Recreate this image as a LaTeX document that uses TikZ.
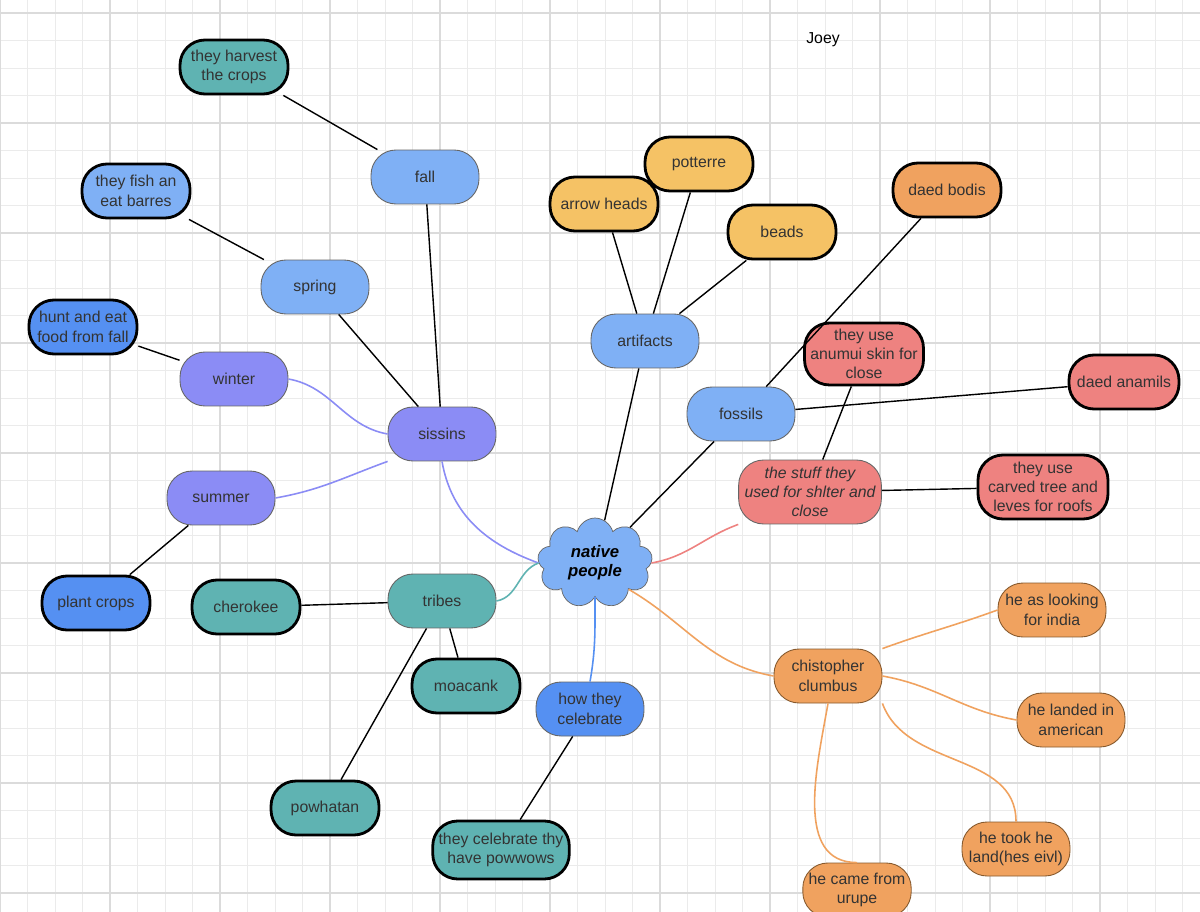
\documentclass[tikz,border=0pt]{standalone}
\usepackage{fontspec}
\setmainfont{Liberation Sans}
\usetikzlibrary{shapes.symbols}
\definecolor{cteal}{HTML}{5FB3B2}
\definecolor{clb}{HTML}{7FB0F5}
\definecolor{cdb}{HTML}{5590F2}
\definecolor{cpu}{HTML}{8B8CF5}
\definecolor{cye}{HTML}{F5C265}
\definecolor{cor}{HTML}{F0A25F}
\definecolor{cre}{HTML}{EE8280}
\definecolor{ctx}{HTML}{333333}
\begin{document}
\begin{tikzpicture}[x=0.02cm,y=-0.02cm,
 bx/.style={rounded corners=0.5cm,minimum width=2.16cm,minimum height=1.08cm,align=center,font=\fontsize{9}{11}\selectfont,text=ctx,draw=black!60,line width=0.5pt},
 bd/.style={bx,draw=black,line width=1.6pt},
 ln/.style={line width=0.8pt}]
\fill[white] (0,0) rectangle (1200,912);
\useasboundingbox (0,0) rectangle (1200,912);
\foreach \i in {0,...,44} \draw[black!8,line width=0.4pt] (\i*27.5,0) -- (\i*27.5,912);
\foreach \i in {0,...,34} \draw[black!8,line width=0.4pt] (0,13+\i*27.5) -- (1200,13+\i*27.5);
\foreach \i in {0,...,11} \draw[black!14,line width=0.6pt] (\i*110,0) -- (\i*110,912);
\foreach \i in {0,...,8} \draw[black!14,line width=0.6pt] (0,13+\i*110) -- (1200,13+\i*110);
\node[font=\fontsize{9}{11}\selectfont] (joey) at (823,40) {Joey};
% nodes
\node[bd,fill=cteal] (harv) at (234,67) {they harvest\\the crops};
\node[bx,fill=clb] (fall) at (425,177) {fall};
\node[bd,fill=clb] (fish) at (136,191) {they fish an\\eat barres};
\node[bx,fill=clb] (spring) at (315,287) {spring};
\node[bd,fill=cdb] (hunt) at (83,327) {hunt and eat\\food from fall};
\node[bx,fill=cpu] (winter) at (234,379) {winter};
\node[bx,fill=cpu] (sis) at (442,434) {sissins};
\node[bx,fill=cpu] (summer) at (221,498) {summer};
\node[bd,fill=cdb] (plant) at (96,603) {plant crops};
\node[bd,fill=cteal] (cher) at (246,607) {cherokee};
\node[bx,fill=cteal] (tribes) at (442,601) {tribes};
\node[bd,fill=cteal] (moa) at (466,686) {moacank};
\node[bd,fill=cteal] (pow) at (325,808) {powhatan};
\node[bx,fill=cdb] (how) at (590,709) {how they\\celebrate};
\node[bd,fill=cteal,minimum width=2.24cm,minimum height=1.16cm] (thy) at (501,850) {they celebrate thy\\have powwows};
\node[cloud,cloud puffs=9,aspect=1.3,draw=black!60,fill=clb,minimum width=2.3cm,minimum height=1.8cm,inner sep=0pt,font=\fontsize{9.5}{11}\selectfont\bfseries\itshape,align=center] (nat) at (595,563) {native\\people};
\node[bx,fill=clb] (art) at (645,341) {artifacts};
\node[bd,fill=cye] (arrow) at (604,204) {arrow heads};
\node[bd,fill=cye] (pot) at (699,164) {potterre};
\node[bd,fill=cye] (beads) at (782,232) {beads};
\node[bd,fill=cor] (bodis) at (947,190) {daed bodis};
\node[bx,fill=clb] (foss) at (741,414) {fossils};
\node[bd,fill=cre,minimum width=2.36cm,minimum height=1.16cm] (anum) at (864,354) {they use\\anumui skin for\\close};
\node[bd,fill=cre,minimum width=2.2cm] (anam) at (1124,382) {daed anamils};
\node[bx,fill=cre,minimum width=2.6cm,minimum height=1.28cm,font=\fontsize{9}{11}\selectfont\itshape] (stuff) at (810,492) {the stuff they\\used for shlter and\\close};
\node[bd,fill=cre,minimum width=2.6cm,minimum height=1.28cm] (carv) at (1043,487) {they use\\carved tree and\\leves for roofs};
\node[bx,fill=cor,draw=brown!70!black] (chis) at (828,676) {chistopher\\clumbus};
\node[bx,fill=cor,draw=brown!70!black] (look) at (1052,610) {he as looking\\for india};
\node[bx,fill=cor,draw=brown!70!black] (land) at (1071,720) {he landed in\\american};
\node[bx,fill=cor,draw=brown!70!black] (took) at (1016,849) {he took he\\land(hes eivl)};
\node[bx,fill=cor,draw=brown!70!black] (came) at (857,890) {he came from\\urupe};
% edges
\begin{scope}[on background layer/.style={}]
\end{scope}
\draw[ln] (harv) -- (fall);
\draw[ln] (fall) -- (sis);
\draw[ln] (fish) -- (spring);
\draw[ln] (spring) -- (sis);
\draw[ln] (hunt) -- (winter);
\draw[ln] (summer) -- (plant);
\draw[ln] (cher) -- (tribes);
\draw[ln] (tribes) -- (moa);
\draw[ln] (tribes) -- (pow);
\draw[ln] (how) -- (thy);
\draw[ln] (art) -- (nat);
\draw[ln] (arrow) -- (art);
\draw[ln] (pot) -- (art);
\draw[ln] (beads) -- (art);
\draw[ln] (bodis) -- (foss);
\draw[ln] (foss) -- (nat);
\draw[ln] (foss) -- (anam);
\draw[ln] (anum) -- (stuff);
\draw[ln] (stuff) -- (carv);
\draw[cpu,line width=0.9pt] (winter.east) to[out=-10,in=170] (sis.west);
\draw[cpu,line width=0.9pt] (summer.east) to[out=10,in=200] (sis.south west);
\draw[cpu,line width=0.9pt] (sis.south) to[out=-80,in=160] (nat.west);
\draw[cteal,line width=0.9pt] (tribes.east) to[out=10,in=200] (nat.west);
\draw[cdb,line width=0.9pt] (nat.south) to[out=-90,in=80] (how.north);
\draw[cre,line width=0.9pt] (nat.east) to[out=10,in=200] (stuff.south west);
\draw[cor,line width=0.9pt] (nat.south east) to[out=-30,in=170] (chis.west);
\draw[cor,line width=0.9pt] (chis.north east) to[out=20,in=200] (look.west);
\draw[cor,line width=0.9pt] (chis.east) to[out=-10,in=170] (land.west);
\draw[cor,line width=0.9pt] (chis.south east) to[out=-70,in=90] (took.north);
\draw[cor,line width=0.9pt] (chis.south) to[out=-100,in=180] (came.north);
% redraw nodes on top
\foreach \n in {harv,fall,fish,spring,hunt,winter,sis,summer,plant,cher,tribes,moa,pow,how,thy,nat,art,arrow,pot,beads,bodis,foss,anum,anam,stuff,carv,chis,look,land,took,came} {}
\end{tikzpicture}
\end{document}
